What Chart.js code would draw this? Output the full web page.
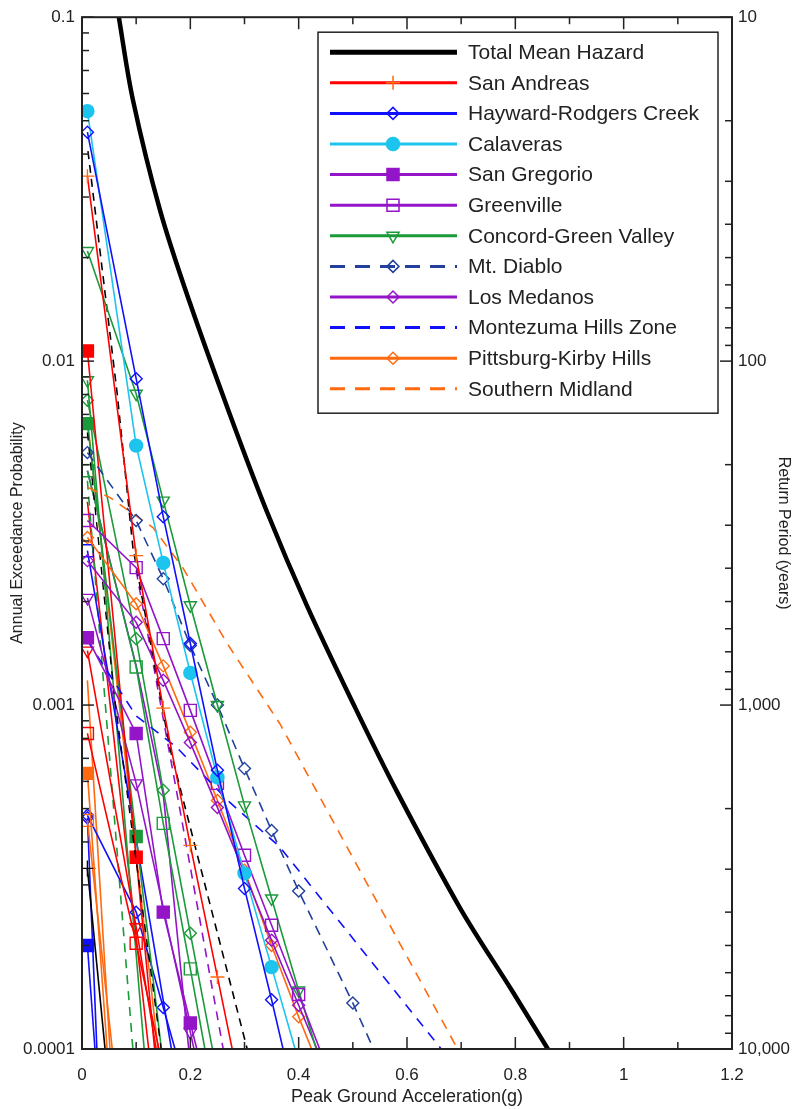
<!DOCTYPE html>
<html>
<head>
<meta charset="utf-8">
<title>Seismic hazard curves</title>
<script src="https://cdn.jsdelivr.net/npm/chart.js@4.4.1/dist/chart.umd.min.js"></script>
<style>
  html, body { margin: 0; padding: 0; background: #fff; }
  canvas { display: block; }
</style>
</head>
<body>
<canvas id="hazardChart" width="793" height="1109"></canvas>
<script>
const FONT = 'Arial, "Liberation Sans", sans-serif';
const INK = "#222";

const RED = "#ff0000";
const ORANGE = "#ff6a10";
const BLUE = "#1010ff";
const CYAN = "#1cc4ee";
const PURPLE = "#9414c8";
const GREEN = "#1b9a3a";
const NAVY = "#22409c";
const OPEN = "rgba(255,255,255,0)";

// axis tick labels
const xTickLabels = ["0", "0.2", "0.4", "0.6", "0.8", "1", "1.2"];
const probLabels = ["0.0001", "0.001", "0.01", "0.1"];
const returnLabels = ["10", "100", "1,000", "10,000"];

// hazard curves: [PGA (g), annual exceedance probability]
const totalMeanHazard = [[0.06, 0.12], [0.068, 0.1], [0.094, 0.0575], [0.144, 0.0275], [0.199, 0.0148],
  [0.273, 0.007], [0.342, 0.00363], [0.415, 0.00195], [0.502, 0.001], [0.581, 0.000562],
  [0.698, 0.000257], [0.796, 0.000146], [0.86, 0.0001], [0.9, 0.000079]];
const sanAndreas = [[0.01, 0.0345], [0.1, 0.00272], [0.15, 0.00098], [0.2, 0.000391], [0.25, 0.000162], [0.3, 0.000067]];
const haywardRodgersCreek = [[0.01, 0.0463], [0.1, 0.00889], [0.15, 0.00353], [0.2, 0.00151], [0.25, 0.000646],
  [0.3, 0.000293], [0.35, 0.000139], [0.4, 0.000064]];
const calaveras = [[0.01, 0.0533], [0.1, 0.00568], [0.15, 0.00259], [0.2, 0.00124], [0.25, 0.000616],
  [0.3, 0.000324], [0.35, 0.000173], [0.4, 0.000092]];
const sanGregorio = [[0.01, 0.00157], [0.1, 0.000827], [0.15, 0.00025], [0.2, 0.000119], [0.22, 0.000089]];
const greenville = [[0.01, 0.00344], [0.1, 0.00251], [0.15, 0.00156], [0.2, 0.000965], [0.25, 0.000592],
  [0.3, 0.000366], [0.35, 0.000229], [0.4, 0.000144], [0.45, 0.00009]];
const concordGreenValley = [[0.01, 0.0209], [0.1, 0.00804], [0.15, 0.00393], [0.2, 0.00195], [0.25, 0.001],
  [0.3, 0.000511], [0.35, 0.000274], [0.4, 0.000148], [0.45, 0.000081]];
const mtDiablo = [[0.01, 0.00542], [0.1, 0.00344], [0.15, 0.00233], [0.2, 0.00149], [0.25, 0.001],
  [0.3, 0.000654], [0.35, 0.000432], [0.4, 0.000288], [0.5, 0.000136], [0.55, 0.000091]];
const losMedanos = [[0.01, 0.00263], [0.1, 0.00174], [0.15, 0.00118], [0.2, 0.000778], [0.25, 0.000504],
  [0.3, 0.000324], [0.35, 0.000207], [0.4, 0.000134], [0.45, 0.000087]];
const montezumaHills = [[0.01, 0.00154], [0.1, 0.00093], [0.175, 0.000753], [0.273, 0.000521],
  [0.365, 0.000387], [0.661, 0.000101], [0.7, 0.000081]];
const pittsburgKirbyHills = [[0.01, 0.00307], [0.1, 0.00197], [0.15, 0.0013], [0.2, 0.000833], [0.25, 0.000528],
  [0.3, 0.000331], [0.35, 0.0002], [0.4, 0.000124], [0.45, 0.000079]];
const southernMidland = [[0.011, 0.00429], [0.052, 0.00401], [0.131, 0.00328], [0.186, 0.00251],
  [0.268, 0.00151], [0.365, 0.000884], [0.5, 0.00036], [0.692, 0.000101], [0.72, 0.000083]];

// individual segment / branch curves drawn behind the source totals
const extraBlackDashed = [[0.011, 0.0408], [0.065, 0.00804], [0.094, 0.00287], [0.162, 0.000753],
  [0.231, 0.000284], [0.305, 0.0001], [0.33, 0.00008]];
const extraBlackDashed2 = [[0.01, 0.0062], [0.06, 0.00105], [0.15, 0.00009]];
const extraRedFilled = [[0.01, 0.0107], [0.1, 0.000361], [0.14, 0.00008]];
const extraGreenFilled = [[0.01, 0.00658], [0.1, 0.000415], [0.15, 0.00009]];
const extraOrangeFilled = [[0.01, 0.000633], [0.05, 0.000083]];
const extraBlueFilled = [[0.01, 0.0002], [0.03, 0.000074]];
const extraBlackCross = [[0.01, 0.000335], [0.05, 0.000076]];
const extraOrangeSquare = [[0.01, 0.000462], [0.06, 0.000087]];
const extraRedSquare = [[0.01, 0.000827], [0.1, 0.000203], [0.16, 0.000074]];
const extraRedTriangle = [[0.01, 0.00144], [0.1, 0.000226], [0.15, 0.000075]];
const extraPurpleTriangle = [[0.01, 0.00205], [0.1, 0.000592], [0.2, 0.000112], [0.22, 0.00008]];
const extraGreenSquare = [[0.01, 0.0048], [0.1, 0.00129], [0.15, 0.000453], [0.2, 0.000171], [0.24, 0.000077]];
const extraGreenDiamond = [[0.01, 0.0077], [0.1, 0.00156], [0.15, 0.000565], [0.2, 0.000217], [0.25, 0.000084]];
const extraPurpleDashed = [[0.1, 0.00246], [0.18, 0.000504], [0.27, 0.000083]];
const extraBlueDiamond = [[0.01, 0.000478], [0.1, 0.00025], [0.15, 0.000132], [0.18, 0.00009]];
const extraBlueSquare = [[0.01, 0.00281], [0.17, 0.00009]];
const extraBlueSteep = [[0.01, 0.00047], [0.03, 0.00008]];
const extraGreenDashed = [[0.01, 0.00449], [0.1, 0.000076]];
const extraGreenSteep = [[0.01, 0.0088], [0.12, 0.00008]];
const extraOrangeSteep = [[0.01, 0.00671], [0.145, 0.000086]];
const extraOrangeShort = [[0.01, 0.00118], [0.06, 0.000061]];
const extraRedSteep = [[0.01, 0.0039], [0.13, 0.00008]];
const extraPurpleSolid = [[0.01, 0.0048], [0.1, 0.0013], [0.15, 0.00055], [0.2, 0.00009]];

const legendLabels = ["Total Mean Hazard", "San Andreas", "Hayward-Rodgers Creek", "Calaveras", "San Gregorio",
  "Greenville", "Concord-Green Valley", "Mt. Diablo", "Los Medanos", "Montezuma Hills Zone",
  "Pittsburg-Kirby Hills", "Southern Midland"];

function curve(label, data, color, style) {
  return Object.assign({
    label,
    data: data.map(([x, y]) => ({ x, y })),
    borderColor: color,
    borderWidth: 1.6,
    pointBorderColor: color,
    pointBackgroundColor: OPEN,
    pointBorderWidth: 1.4,
    pointRadius: 0,
    tension: 0,
    fill: false,
  }, style || {});
}

const datasets = [
  curve("Total Mean Hazard", totalMeanHazard, "#000", { borderWidth: 4.5, tension: 0.35 }),
  curve("San Andreas", sanAndreas, RED, { pointStyle: "cross", pointRadius: 7, pointBorderColor: ORANGE }),
  curve("Hayward-Rodgers Creek", haywardRodgersCreek, BLUE, { pointStyle: "rectRot", pointRadius: 6 }),
  curve("Calaveras", calaveras, CYAN, { pointStyle: "circle", pointRadius: 6.5, pointBackgroundColor: CYAN }),
  curve("San Gregorio", sanGregorio, PURPLE, { pointStyle: "rect", pointRadius: 8.5, pointBackgroundColor: PURPLE }),
  curve("Greenville", greenville, PURPLE, { pointStyle: "rect", pointRadius: 8.5 }),
  curve("Concord-Green Valley", concordGreenValley, GREEN, { pointStyle: "triangle", pointRotation: 180, pointRadius: 7 }),
  curve("Mt. Diablo", mtDiablo, NAVY, { borderDash: [10, 7], pointStyle: "rectRot", pointRadius: 6 }),
  curve("Los Medanos", losMedanos, PURPLE, { pointStyle: "rectRot", pointRadius: 6 }),
  curve("Montezuma Hills Zone", montezumaHills, BLUE, { borderDash: [10, 8] }),
  curve("Pittsburg-Kirby Hills", pittsburgKirbyHills, ORANGE, { pointStyle: "rectRot", pointRadius: 6 }),
  curve("Southern Midland", southernMidland, ORANGE, { borderDash: [10, 8] }),

  curve("", extraBlackDashed, "#000", { borderDash: [8, 6] }),
  curve("", extraBlackDashed2, "#000", { borderDash: [8, 7], borderWidth: 1.4 }),
  curve("", extraRedFilled, RED, { pointStyle: "rect", pointRadius: 8.5, pointBackgroundColor: RED }),
  curve("", extraGreenFilled, GREEN, { pointStyle: "rect", pointRadius: 8.5, pointBackgroundColor: GREEN }),
  curve("", extraOrangeFilled, ORANGE, { pointStyle: "rect", pointRadius: [8.5, 0], pointBackgroundColor: ORANGE }),
  curve("", extraBlueFilled, BLUE, { pointStyle: "rect", pointRadius: [8.5, 0], pointBackgroundColor: BLUE }),
  curve("", extraBlackCross, "#000", { pointStyle: "cross", pointRadius: [8, 0] }),
  curve("", extraOrangeSquare, ORANGE, { pointStyle: "rect", pointRadius: [8.5, 0] }),
  curve("", extraRedSquare, RED, { pointStyle: "rect", pointRadius: 8.5 }),
  curve("", extraRedTriangle, RED, { pointStyle: "triangle", pointRotation: 180, pointRadius: 7 }),
  curve("", extraPurpleTriangle, PURPLE, { pointStyle: "triangle", pointRotation: 180, pointRadius: 7 }),
  curve("", extraGreenSquare, GREEN, { pointStyle: "rect", pointRadius: 8.5 }),
  curve("", extraGreenDiamond, GREEN, { pointStyle: "rectRot", pointRadius: 6 }),
  curve("", extraPurpleDashed, PURPLE, { borderDash: [9, 7] }),
  curve("", extraBlueDiamond, BLUE, { pointStyle: "rectRot", pointRadius: 6 }),
  curve("", extraBlueSquare, BLUE, { pointStyle: "rect", pointRadius: [8.5, 0] }),
  curve("", extraBlueSteep, BLUE, { pointStyle: "rectRot", pointRadius: [6, 0] }),
  curve("", extraGreenDashed, GREEN, { borderDash: [9, 7] }),
  curve("", extraGreenSteep, GREEN, { pointStyle: "triangle", pointRotation: 180, pointRadius: [7, 0] }),
  curve("", extraOrangeSteep, ORANGE),
  curve("", extraOrangeShort, ORANGE),
  curve("", extraRedSteep, RED),
  curve("", extraPurpleSolid, PURPLE),
];

function isDecade(v) {
  const e = Math.log10(v);
  return Math.abs(e - Math.round(e)) < 1e-6;
}

// plot frame plus inward tick marks on all four sides
const frameTicks = {
  id: "frameTicks",
  afterDraw(chart) {
    const { ctx, chartArea: a, scales } = chart;
    const seg = (x1, y1, x2, y2) => { ctx.beginPath(); ctx.moveTo(x1, y1); ctx.lineTo(x2, y2); ctx.stroke(); };
    ctx.save();
    ctx.strokeStyle = INK;
    ctx.lineWidth = 1.5;
    for (let i = 0; i <= 12; i++) {
      const px = scales.x.getPixelForValue(i / 10);
      const len = i % 2 ? 7 : 12;
      seg(px, a.bottom, px, a.bottom - len);
      seg(px, a.top, px, a.top + len);
    }
    for (let e = -4; e <= -1; e++) {
      for (let k = 1; k <= 9; k++) {
        const v = k * Math.pow(10, e);
        if (v > 0.1 + 1e-12) break;
        const py = scales.y.getPixelForValue(v);
        seg(a.left, py, a.left + (k === 1 ? 12 : 7), py);
      }
    }
    for (let e = 1; e <= 4; e++) {
      for (let k = 1; k <= 9; k++) {
        const v = k * Math.pow(10, e);
        if (v > 10000 + 1e-9) break;
        const py = scales.y2.getPixelForValue(v);
        seg(a.right, py, a.right - (k === 1 ? 12 : 7), py);
      }
    }
    ctx.lineWidth = 2;
    ctx.strokeRect(a.left, a.top, a.right - a.left, a.bottom - a.top);
    ctx.restore();
  },
};

// boxed legend with line samples and markers
const legendPanel = {
  id: "legendPanel",
  afterDatasetsDraw(chart) {
    const { ctx, chartArea: a } = chart;
    const left = a.left + 236, top = a.top + 15, width = 400, height = 381;
    ctx.save();
    ctx.fillStyle = "#fff";
    ctx.fillRect(left, top, width, height);
    ctx.lineWidth = 1.5;
    ctx.strokeStyle = INK;
    ctx.strokeRect(left, top, width, height);
    legendLabels.forEach((label, i) => {
      const ds = chart.data.datasets.find((d) => d.label === label);
      const y = top + 20 + i * 30.6;
      const x0 = left + 12, x1 = left + 139;
      ctx.beginPath();
      ctx.setLineDash(ds.borderDash ? [15, 10] : []);
      ctx.lineWidth = ds.borderWidth > 3 ? 5 : 3;
      ctx.strokeStyle = ds.borderColor;
      ctx.moveTo(x0, y);
      ctx.lineTo(x1, y);
      ctx.stroke();
      ctx.setLineDash([]);
      if (ds.pointRadius > 0) {
        ctx.fillStyle = ds.pointBackgroundColor;
        ctx.strokeStyle = ds.pointBorderColor;
        ctx.lineWidth = 1.5;
        Chart.helpers.drawPoint(ctx, {
          pointStyle: ds.pointStyle,
          radius: ds.pointRadius,
          rotation: ds.pointRotation || 0,
          borderWidth: 1.5,
        }, left + 75, y);
      }
      ctx.fillStyle = INK;
      ctx.font = `21px ${FONT}`;
      ctx.textAlign = "left";
      ctx.textBaseline = "middle";
      ctx.fillText(label, left + 150, y + 1);
    });
    ctx.restore();
  },
};

new Chart(document.getElementById("hazardChart"), {
  type: "line",
  data: { datasets },
  options: {
    responsive: false,
    animation: false,
    devicePixelRatio: 1,
    events: [],
    layout: { padding: { top: 16 } },
    plugins: { legend: { display: false }, tooltip: { enabled: false } },
    scales: {
      x: {
        type: "linear",
        min: 0,
        max: 1.2,
        grid: { display: false, drawTicks: false },
        border: { display: false },
        ticks: {
          stepSize: 0.1,
          autoSkip: false,
          maxRotation: 0,
          padding: 16,
          color: INK,
          font: { family: FONT, size: 17 },
          callback: (v, i) => (i % 2 === 0 ? xTickLabels[i / 2] : ""),
        },
        title: {
          display: true,
          text: "Peak Ground Acceleration(g)",
          color: INK,
          font: { family: FONT, size: 18 },
          padding: { top: 0, bottom: 1 },
        },
        afterFit: (s) => { s.height = 60; },
      },
      y: {
        type: "logarithmic",
        position: "left",
        min: 0.0001,
        max: 0.1,
        grid: { display: false, drawTicks: false },
        border: { display: false },
        ticks: {
          autoSkip: false,
          padding: 7,
          color: INK,
          font: { family: FONT, size: 17 },
          callback: (v) => (isDecade(v) ? probLabels[Math.round(Math.log10(v)) + 4] : ""),
        },
        title: {
          display: true,
          text: "Annual Exceedance Probability",
          color: INK,
          font: { family: FONT, size: 16 },
          padding: { top: 8, bottom: 0 },
        },
        afterFit: (s) => { s.width = 82; },
      },
      y2: {
        type: "logarithmic",
        position: "right",
        min: 10,
        max: 10000,
        reverse: true,
        grid: { display: false, drawTicks: false },
        border: { display: false },
        ticks: {
          autoSkip: false,
          padding: 6,
          color: INK,
          font: { family: FONT, size: 17 },
          callback: (v) => (isDecade(v) ? returnLabels[Math.round(Math.log10(v)) - 1] : ""),
        },
        title: {
          display: true,
          text: "Return Period (years)",
          color: INK,
          font: { family: FONT, size: 16 },
          padding: { top: 0, bottom: 0 },
        },
        afterFit: (s) => { s.width = 61; },
      },
    },
  },
  plugins: [frameTicks, legendPanel],
});
</script>
</body>
</html>
